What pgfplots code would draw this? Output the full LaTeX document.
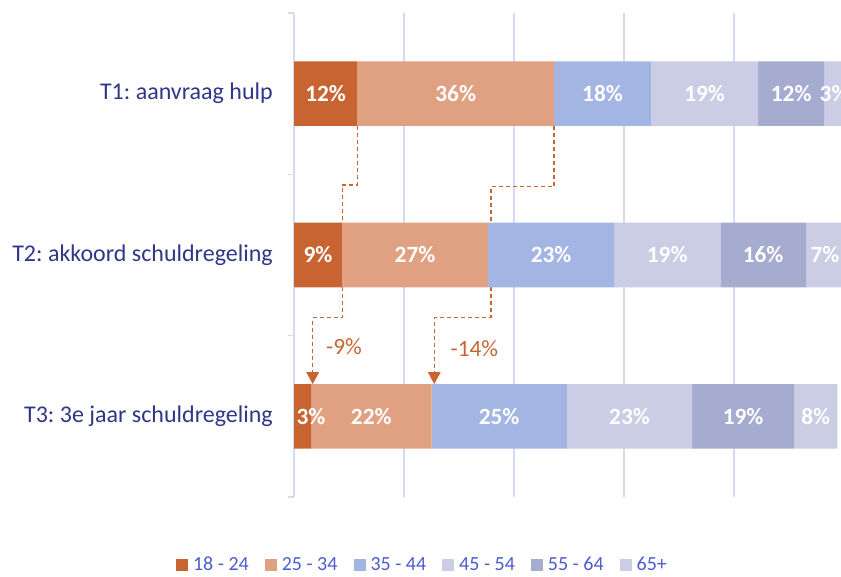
\documentclass[border=0pt]{standalone}
\usepackage{pgfplots}
\usepackage{pgfplotstable}
\pgfplotsset{compat=1.18}
\usepackage{fontspec}
\setmainfont{Carlito}
\frenchspacing
\definecolor{cA}{RGB}{199,100,50}
\definecolor{cB}{RGB}{224,161,130}
\definecolor{cC}{RGB}{163,181,226}
\definecolor{cD}{RGB}{203,205,229}
\definecolor{cE}{RGB}{166,171,208}
\definecolor{cF}{RGB}{203,205,229}
\definecolor{lav}{RGB}{215,217,242}
\definecolor{navy}{RGB}{47,55,135}
\definecolor{legblue}{RGB}{75,92,205}

\pgfplotstableread{
x y lab sh
11.5 2 12 0
8.7 1 9 0
3.1 0 3 6.4
}\sA
\pgfplotstableread{
x y lab sh
35.8 2 36 0
26.6 1 27 0
21.9 0 22 0
}\sB
\pgfplotstableread{
x y lab sh
17.6 2 18 0
22.9 1 23 0
24.6 0 25 0
}\sC
\pgfplotstableread{
x y lab sh
19.5 2 19 0
19.3 1 19 0
22.8 0 23 0
}\sD
\pgfplotstableread{
x y lab sh
12.0 2 12 0
15.6 1 16 0
18.5 0 19 0
}\sE
\pgfplotstableread{
x y lab sh
3.6 2 3 0
6.9 1 7 0
7.9 0 8 0
}\sF

\begin{document}
\begin{tikzpicture}
\useasboundingbox (0,0) rectangle (630.75pt,-432pt);
\begin{axis}[
  at={(220.5pt,-9.75pt)}, anchor=north west,
  scale only axis, width=412.5pt, height=363pt,
  xbar stacked, bar width=0.4,
  xmin=0, xmax=100, ymin=-0.5, ymax=2.5,
  axis y line*=left, axis x line*=bottom,
  x axis line style={draw=none},
  y axis line style={draw=lav, line width=1.1pt},
  xtick={0,20,40,60,80,100}, xticklabel=\empty,
  xmajorgrids, grid style={draw=lav, line width=1.1pt},
  ytick={0,1,2},
  yticklabels={T3: 3e jaar schuldregeling, T2: akkoord schuldregeling, T1: aanvraag hulp},
  major tick length=0pt,
  minor ytick={-0.5,0.5,1.5,2.5}, minor tick length=4.5pt, tick align=outside,
  minor tick style={draw=lav, line width=1.1pt},
  yticklabel style={font=\fontsize{18}{21}\selectfont, text=navy, anchor=east, inner sep=0pt, xshift=-15.75pt},
  point meta=explicit symbolic,
  visualization depends on={\thisrow{sh} \as \lsh},
  nodes near coords={\pgfplotspointmeta\%},
  every node near coord/.append style={font=\fontsize{17.5}{21}\selectfont\bfseries, text=white, xshift=\lsh pt},
  legend columns=6,
  legend style={draw=none, fill=none, at={(0.2318,-0.1405)}, anchor=center,
    font=\fontsize{15}{18}\selectfont, text=legblue,
    nodes={inner sep=0pt},
    /tikz/every even column/.append style={column sep=12pt},
    /tikz/every odd column/.append style={column sep=3.75pt}},
  legend image code/.code={\fill[#1] (0pt,-4.5pt) rectangle (9pt,4.5pt);},
]
\addplot[fill=cA, draw=none] table[x=x, y=y, meta=lab] {\sA};
\addplot[fill=cB, draw=none] table[x=x, y=y, meta=lab] {\sB};
\addplot[fill=cC, draw=none] table[x=x, y=y, meta=lab] {\sC};
\addplot[fill=cD, draw=none] table[x=x, y=y, meta=lab] {\sD};
\addplot[fill=cE, draw=none] table[x=x, y=y, meta=lab] {\sE};
\addplot[fill=cF, draw=none] table[x=x, y=y, meta=lab] {\sF};
\legend{18 - 24, 25 - 34, 35 - 44, 45 - 54, 55 - 64, 65+}
% annotations
\draw[cA, line width=1pt, dash pattern=on 3pt off 2.25pt] (axis cs:11.5,1.8) -- (axis cs:11.5,1.434) -- (axis cs:8.8,1.434) -- (axis cs:8.8,1.2);
\draw[cA, line width=1pt, dash pattern=on 3pt off 2.25pt] (axis cs:47.3,1.8) -- (axis cs:47.3,1.423) -- (axis cs:35.8,1.423) -- (axis cs:35.8,1.2);
\draw[cA, line width=1pt, dash pattern=on 3pt off 2.25pt] (axis cs:8.8,0.8) -- (axis cs:8.8,0.611) -- (axis cs:3.4,0.611) -- (axis cs:3.4,0.27);
\draw[cA, line width=1pt, dash pattern=on 3pt off 2.25pt] (axis cs:35.8,0.8) -- (axis cs:35.8,0.611) -- (axis cs:25.5,0.611) -- (axis cs:25.5,0.27);
\fill[cA] (axis cs:3.4,0.2) -- (axis cs:2.22,0.2744) -- (axis cs:4.58,0.2744) -- cycle;
\fill[cA] (axis cs:25.5,0.2) -- (axis cs:24.32,0.2744) -- (axis cs:26.68,0.2744) -- cycle;
\node[text=cA, font=\fontsize{17.5}{21}\selectfont] at (axis cs:9.1,0.432) {-9\%};
\node[text=cA, font=\fontsize{17.5}{21}\selectfont] at (axis cs:32.8,0.422) {-14\%};
\end{axis}
\end{tikzpicture}
\end{document}
